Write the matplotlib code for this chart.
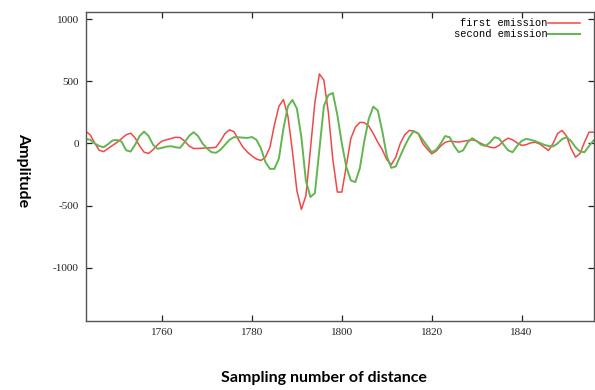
import matplotlib
matplotlib.use('Agg')
import matplotlib.pyplot as plt
import numpy as np

# first sample index shown on the x axis
first_sample = 1743

first_emission = [
    99, 70, 5, -55, -65, -40, -15, 10, 40, 70,
    83, 45, -20, -70, -80, -50, -10, 20, 30, 40,
    50, 48, 20, -20, -40, -40, -38, -35, -35, -30,
    20, 80, 110, 95, 30, -30, -70, -100, -125, -137,
    -110, -30, 150, 300, 354, 220, -60, -380, -531, -420,
    -50, 330, 560, 510, 250, -130, -391, -391, -180, 40,
    130, 170, 168, 140, 80, 10, -50, -130, -170, -110,
    0, 70, 105, 100, 80, 0, -45, -83, -60, -20,
    10, 19, 15, 11, 18, 24, 29, 20, 0, -16,
    -30, -35, -15, 20, 43, 30, 5, -15, -10, 5,
    10, -3, -30, -56, 0, 80, 105, 60, -40, -110,
    -80, 11, 91, 91,
]

second_emission = [
    37, 30, 0, -20, -30, -5, 25, 28, 15, -55,
    -65, -10, 60, 96, 60, -10, -43, -35, -25, -22,
    -30, -35, 10, 60, 91, 60, 0, -40, -70, -75,
    -50, -10, 30, 51, 50, 47, 45, 52, 30, -40,
    -150, -204, -204, -120, 120, 300, 351, 280, 50, -300,
    -431, -400, -50, 300, 390, 407, 230, 0, -190, -297,
    -311, -200, 20, 200, 297, 265, 100, -100, -196, -185,
    -100, -20, 50, 99, 80, 30, -20, -70, -50, 0,
    60, 50, -20, -70, -55, 10, 43, 20, -10, -20,
    10, 51, 40, -10, -55, -70, -20, 20, 37, 30,
    19, 5, -10, -20, -24, 0, 35, 51, 20, -30,
    -65, -70, -20, 24,
]

x_ticks = [1760, 1780, 1800, 1820, 1840]
y_ticks = [-1000, -500, 0, 500, 1000]

samples = np.arange(first_sample, first_sample + len(first_emission))

fig = plt.figure(figsize=(5.95, 3.9), dpi=100)
ax = fig.add_axes([0.144, 0.176, 0.8535, 0.793])

ax.plot(samples, first_emission, color='#f04848', linewidth=1.1, label='first emission')
ax.plot(samples, second_emission, color='#62b550', linewidth=1.4, label='second emission')

ax.set_xlim(1743, 1856)
ax.set_ylim(-1432, 1058)
ax.set_xticks(x_ticks)
ax.set_yticks(y_ticks)

tick_font = {'family': 'Liberation Serif', 'size': 8}
ax.set_xticklabels([str(t) for t in x_ticks], fontdict=tick_font)
ax.set_yticklabels([str(t) for t in y_ticks], fontdict=tick_font)
ax.tick_params(direction='in', length=4, width=0.9, top=True, right=True,
               colors='#222222', pad=5)
for spine in ax.spines.values():
    spine.set_color('#555555')
    spine.set_linewidth(1.0)

leg = ax.legend(loc='upper right', frameon=False, markerfirst=False,
                prop={'family': 'Liberation Mono', 'size': 7.5},
                handlelength=3.0, handletextpad=0.1, labelspacing=0.1,
                borderaxespad=0.2, bbox_to_anchor=(0.985, 1.0))

fig.text(0.545, 0.03, 'Sampling number of distance', ha='center', va='center',
         family='Lato', weight='bold', fontsize=11.5)
fig.text(0.038, 0.565, 'Amplitude', ha='center', va='center', rotation=270,
         family='Lato', weight='bold', fontsize=11.5)

plt.savefig('out.png', dpi=100)
plt.close()
